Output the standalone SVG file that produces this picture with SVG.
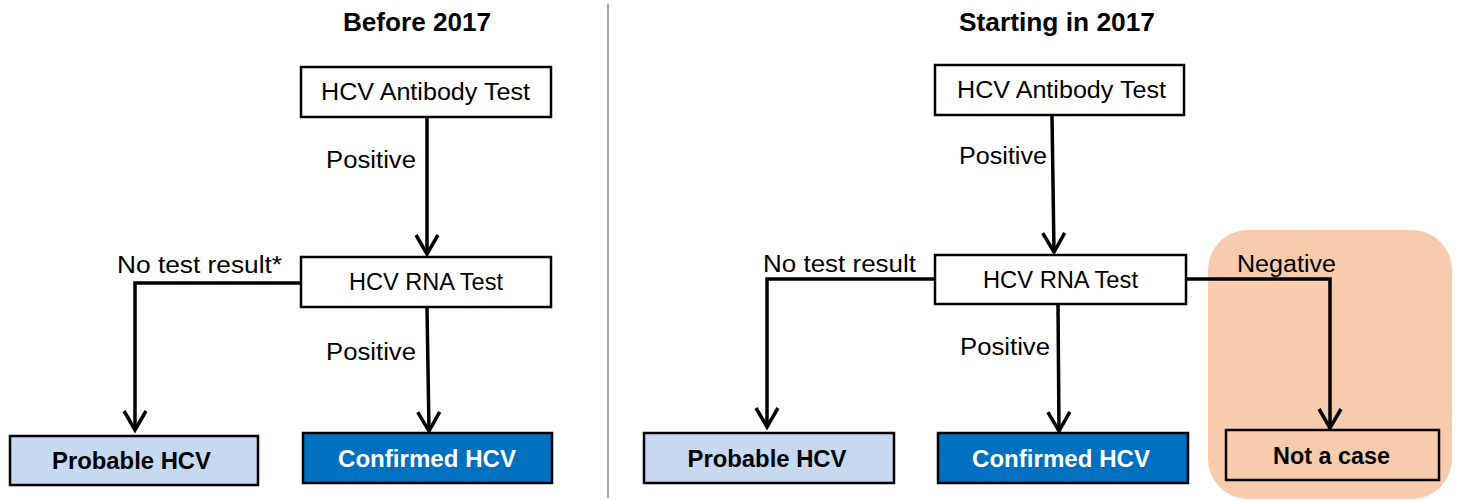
<svg xmlns="http://www.w3.org/2000/svg" width="1457" height="501" viewBox="0 0 1457 501">
<defs>
<style>
.box{stroke:#000;stroke-width:2.5}
.t{font-family:"Liberation Sans",Arial,sans-serif;font-size:23px;fill:#000}
.b{font-family:"Liberation Sans",Arial,sans-serif;font-size:23px;font-weight:bold;fill:#000}
.h{font-family:"Liberation Sans",Arial,sans-serif;font-size:25px;font-weight:bold;fill:#000}
.c{fill:none;stroke:#000;stroke-width:3.5}
</style>
<marker id="ah" markerUnits="userSpaceOnUse" markerWidth="26" markerHeight="26" refX="20" refY="11" orient="auto" overflow="visible">
<path d="M1,0 L20,11 L1,22" fill="none" stroke="#000" stroke-width="3.5"/>
</marker>
</defs>
<rect width="1457" height="501" fill="#fff"/>
<line x1="608" y1="4" x2="608" y2="498" stroke="#A6A6A6" stroke-width="2"/>
<text class="h" x="417" y="31" text-anchor="middle" textLength="148" lengthAdjust="spacingAndGlyphs">Before 2017</text>
<text class="h" x="1057" y="31" text-anchor="middle" textLength="196" lengthAdjust="spacingAndGlyphs">Starting in 2017</text>
<rect id="notcase-bg" x="1208" y="230" width="244" height="269" rx="40" fill="#F8CBAD"/>
<g id="connectors">
<path class="c" d="M427,118 V254" marker-end="url(#ah)"/>
<path class="c" d="M301,283 H135 V430" marker-end="url(#ah)"/>
<path class="c" d="M427,308 L429,431" marker-end="url(#ah)"/>
<path class="c" d="M1052,116 L1054,252" marker-end="url(#ah)"/>
<path class="c" d="M935,279 H767 V427" marker-end="url(#ah)"/>
<path class="c" d="M1058,305 L1059,431" marker-end="url(#ah)"/>
<path class="c" d="M1187,279 H1330 V428" marker-end="url(#ah)"/>
<text class="t" x="326" y="168" textLength="90" lengthAdjust="spacingAndGlyphs">Positive</text>
<text class="t" x="117" y="273" textLength="165" lengthAdjust="spacingAndGlyphs">No test result*</text>
<text class="t" x="326" y="360" textLength="90" lengthAdjust="spacingAndGlyphs">Positive</text>
<text class="t" x="959" y="164" textLength="88" lengthAdjust="spacingAndGlyphs">Positive</text>
<text class="t" x="763" y="272" textLength="153" lengthAdjust="spacingAndGlyphs">No test result</text>
<text class="t" x="960" y="355" textLength="90" lengthAdjust="spacingAndGlyphs">Positive</text>
<text class="t" x="1237" y="272" textLength="99" lengthAdjust="spacingAndGlyphs">Negative</text>
</g>
<g id="l-antibody"><rect class="box" x="301" y="67" width="250" height="50" fill="#fff"/><text class="t" x="425.5" y="100" text-anchor="middle" textLength="209" lengthAdjust="spacingAndGlyphs">HCV Antibody Test</text></g>
<g id="l-rna"><rect class="box" x="301" y="257" width="250" height="50" fill="#fff"/><text class="t" x="426" y="290" text-anchor="middle" textLength="154" lengthAdjust="spacingAndGlyphs">HCV RNA Test</text></g>
<g id="l-probable"><rect class="box" x="10" y="436" width="248" height="49" fill="#C6D9F1"/><text class="b" x="131.5" y="469" text-anchor="middle" textLength="159" lengthAdjust="spacingAndGlyphs">Probable HCV</text></g>
<g id="l-confirmed"><rect class="box" x="303" y="433" width="249" height="50" fill="#0070C0"/><text class="b" x="427" y="467" text-anchor="middle" style="fill:#fff" textLength="178" lengthAdjust="spacingAndGlyphs">Confirmed HCV</text></g>
<g id="r-antibody"><rect class="box" x="935" y="65" width="249" height="50" fill="#fff"/><text class="t" x="1061.5" y="98" text-anchor="middle" textLength="209" lengthAdjust="spacingAndGlyphs">HCV Antibody Test</text></g>
<g id="r-rna"><rect class="box" x="935" y="255" width="251" height="49" fill="#fff"/><text class="t" x="1060.5" y="288" text-anchor="middle" textLength="155" lengthAdjust="spacingAndGlyphs">HCV RNA Test</text></g>
<g id="r-probable"><rect class="box" x="644" y="433" width="250" height="50" fill="#C6D9F1"/><text class="b" x="767" y="467" text-anchor="middle" textLength="159" lengthAdjust="spacingAndGlyphs">Probable HCV</text></g>
<g id="r-confirmed"><rect class="box" x="938" y="433" width="250" height="50" fill="#0070C0"/><text class="b" x="1061" y="467" text-anchor="middle" style="fill:#fff" textLength="178" lengthAdjust="spacingAndGlyphs">Confirmed HCV</text></g>
<g id="r-notcase"><rect class="box" x="1226" y="430" width="213" height="50" fill="#F8CBAD"/><text class="b" x="1331.5" y="464" text-anchor="middle" textLength="117" lengthAdjust="spacingAndGlyphs">Not a case</text></g>
</svg>
